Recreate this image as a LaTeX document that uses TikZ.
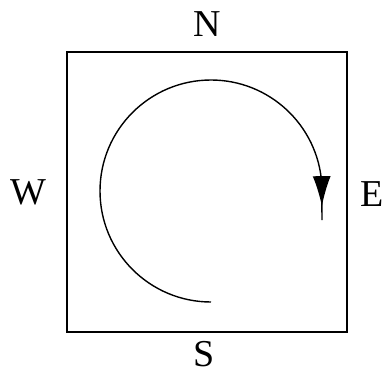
\documentclass[tikz,border=0pt]{standalone}
\usepackage{fontspec}
\setmainfont{Liberation Serif}
\usepackage{tikz}
\usetikzlibrary{arrows.meta, decorations.markings}

\begin{document}
\begin{tikzpicture}[
  x=0.5pt, y=0.5pt,
  box/.style={draw=black, line width=1pt},
  track/.style={draw=black, line width=0.7pt},
  dir/.style={font=\fontsize{19}{21}\selectfont, inner sep=0pt},
]
  \useasboundingbox (0,0) rectangle (385,376);
  \draw[box] (67,44) rectangle (347,324);
  \node[dir] (north) at (207,352) {N};
  \node[dir] (south) at (204,22) {S};
  \node[dir] (west) at (28,184) {W};
  \node[dir] (east) at (372,182) {E};
  \coordinate (centre) at (211,185);
  % path from the south end round to the east, then down
  \draw[track, postaction={decorate}, decoration={markings,
      mark=at position 0.975 with {\arrow{Latex[length=15pt, width=9pt]}}}]
    (centre) ++(270:111) arc[start angle=270, end angle=4, radius=111]
    -- (322,156);
\end{tikzpicture}
\end{document}
